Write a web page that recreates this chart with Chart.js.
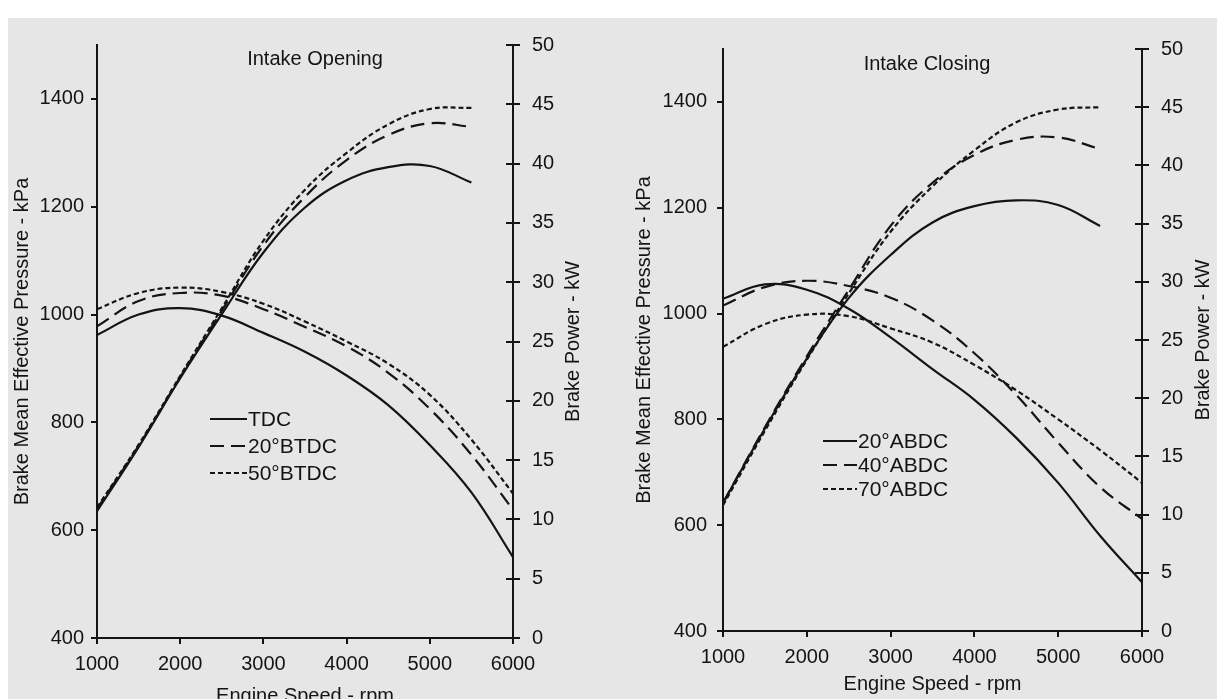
<!DOCTYPE html>
<html>
<head>
<meta charset="utf-8">
<script src="https://cdn.jsdelivr.net/npm/chart.js@4.4.0/dist/chart.umd.min.js"></script>
<style>
  html, body { margin: 0; padding: 0; background: #fff; }
  #page { position: relative; width: 1217px; height: 699px; overflow: hidden; }
  #paper { position: absolute; left: 8px; top: 18px; right: 0; bottom: 0; background: #e6e6e6; }
  canvas { position: absolute; top: 0; }
</style>
</head>
<body>
<div id="page">
  <div id="paper"></div>
  <canvas id="openChart" width="608" height="699" style="left:0"></canvas>
  <canvas id="closeChart" width="609" height="699" style="left:608px"></canvas>
</div>
<script>
// engine speed points (rpm)
var rpmBmep = [1000, 1500, 2000, 2500, 3000, 3500, 4000, 4500, 5000, 5500, 6000];
var rpmPower = [1000, 1500, 2000, 2500, 3000, 3500, 4000, 4500, 5000, 5500];

// axis ticks
var bmepTicks = [400, 600, 800, 1000, 1200, 1400];
var powerTicks = [0, 5, 10, 15, 20, 25, 30, 35, 40, 45, 50];
var rpmTicks = [1000, 2000, 3000, 4000, 5000, 6000];

// intake opening timing
var openLabels = ['TDC', '20°BTDC', '50°BTDC'];
var openBmep = [
  [962, 1000, 1012, 998, 966, 931, 887, 832, 758, 670, 550],
  [978, 1025, 1040, 1035, 1010, 977, 941, 892, 825, 740, 638],
  [1010, 1040, 1050, 1042, 1020, 987, 950, 909, 851, 768, 668]
];
var openPower = [
  [10.7, 16.1, 21.9, 27.3, 32.5, 36.3, 38.6, 39.7, 39.8, 38.4],
  [10.9, 16.2, 22.0, 27.6, 33.1, 37.2, 40.3, 42.4, 43.4, 43.1],
  [11.0, 16.3, 22.1, 27.8, 33.5, 37.8, 40.9, 43.3, 44.6, 44.7]
];

// intake closing timing
var closeLabels = ['20°ABDC', '40°ABDC', '70°ABDC'];
var closeBmep = [
  [1028, 1055, 1045, 1009, 955, 895, 837, 765, 680, 580, 492],
  [1015, 1050, 1062, 1052, 1030, 987, 925, 846, 756, 672, 612],
  [937, 980, 998, 995, 972, 945, 903, 855, 800, 742, 680]
];
var closePower = [
  [11.0, 17.4, 23.4, 28.6, 32.3, 35.1, 36.5, 37.0, 36.6, 34.8],
  [11.0, 17.5, 23.6, 29.3, 34.8, 38.5, 40.9, 42.2, 42.4, 41.4],
  [10.8, 17.2, 23.3, 29.0, 34.3, 38.2, 41.3, 43.7, 44.8, 45.0]
];

var ink = '#141414';
var fontFamily = '"Liberation Sans", Arial, sans-serif';
var dashes = [[], [14, 7], [5, 3]];

function points(xs, ys) {
  return ys.map(function(y, i) { return { x: xs[i], y: y }; });
}

function keepTicks(list) {
  return function(scale) {
    scale.ticks = list.map(function(v) { return { value: v }; });
  };
}

// plain numbers, no thousands separator
function plain(v) { return String(v); }

// headings, axis titles, legend and inner tick marks
var sheetText = {
  id: 'sheetText',
  afterDraw: function(chart, args, o) {
    var ctx = chart.ctx;
    var area = chart.chartArea;
    var midY = (area.top + area.bottom) / 2;
    ctx.save();
    ctx.fillStyle = ink;
    ctx.strokeStyle = ink;
    ctx.textBaseline = 'middle';
    ctx.font = '20px ' + fontFamily;

    ctx.textAlign = 'center';
    ctx.fillText(o.heading, o.headingX, o.headingY);
    ctx.fillText('Engine Speed - rpm', (area.left + area.right) / 2, o.xTitleY);

    [[o.leftTitle, o.leftTitleX], [o.rightTitle, o.rightTitleX]].forEach(function(t) {
      ctx.save();
      ctx.translate(t[1], midY);
      ctx.rotate(-Math.PI / 2);
      ctx.fillText(t[0], 0, 0);
      ctx.restore();
    });

    // power ticks cross the right axis
    var right = chart.scales.y1;
    ctx.lineWidth = 2;
    right.ticks.forEach(function(t) {
      var y = Math.round(right.getPixelForValue(t.value));
      ctx.beginPath();
      ctx.moveTo(area.right - 7, y);
      ctx.lineTo(area.right, y);
      ctx.stroke();
    });

    // legend inside the plot
    ctx.textAlign = 'left';
    ctx.font = '21px ' + fontFamily;
    o.labels.forEach(function(label, i) {
      var y = o.legendY + i * o.legendGap;
      ctx.beginPath();
      ctx.setLineDash(dashes[i]);
      ctx.moveTo(o.legendX, y);
      ctx.lineTo(o.legendX + o.legendLine, y);
      ctx.stroke();
      ctx.setLineDash([]);
      ctx.fillText(label, o.legendX + o.legendLine + 1, y + 1);
    });
    ctx.restore();
  }
};

function makeChart(id, labels, bmep, power, box, text) {
  var datasets = [];
  labels.forEach(function(label, i) {
    datasets.push({
      label: label,
      data: points(rpmBmep, bmep[i]),
      yAxisID: 'y',
      borderDash: dashes[i]
    });
    datasets.push({
      label: label + ' power',
      data: points(rpmPower, power[i]),
      yAxisID: 'y1',
      borderDash: dashes[i]
    });
  });

  var tickFont = { family: fontFamily, size: 20 };
  text.labels = labels;

  return new Chart(document.getElementById(id), {
    type: 'line',
    data: { datasets: datasets },
    options: {
      responsive: false,
      animation: false,
      layout: { padding: { top: box.top, left: 0, right: 0, bottom: 0 } },
      elements: {
        point: { radius: 0 },
        line: { borderColor: ink, borderWidth: 2.2, tension: 0.4, fill: false }
      },
      scales: {
        x: {
          type: 'linear',
          min: 1000,
          max: 6000,
          afterBuildTicks: keepTicks(rpmTicks),
          afterFit: function(s) { s.height = box.xHeight; },
          ticks: { color: ink, font: tickFont, padding: box.xPad, maxRotation: 0, callback: plain },
          grid: { drawOnChartArea: false, color: ink, lineWidth: 2, tickLength: 6 },
          border: { color: ink, width: 2 }
        },
        y: {
          position: 'left',
          min: 400,
          max: 1500,
          afterBuildTicks: keepTicks(bmepTicks),
          afterFit: function(s) { s.width = box.leftWidth; },
          ticks: { color: ink, font: tickFont, padding: box.leftPad, callback: plain },
          grid: { drawOnChartArea: false, color: ink, lineWidth: 2, tickLength: 6 },
          border: { color: ink, width: 2 }
        },
        y1: {
          position: 'right',
          min: 0,
          max: 50,
          afterBuildTicks: keepTicks(powerTicks),
          afterFit: function(s) { s.width = box.rightWidth; },
          ticks: { color: ink, font: tickFont, padding: 12, callback: plain },
          grid: { drawOnChartArea: false, color: ink, lineWidth: 2, tickLength: 7 },
          border: { color: ink, width: 2 }
        }
      },
      plugins: {
        legend: { display: false },
        tooltip: { enabled: false },
        sheetText: text
      }
    },
    plugins: [sheetText]
  });
}

makeChart('openChart', openLabels, openBmep, openPower,
  { top: 45, xHeight: 61, leftWidth: 97, rightWidth: 95, xPad: 8, leftPad: 7 },
  {
    heading: 'Intake Opening', headingX: 315, headingY: 59,
    leftTitle: 'Brake Mean Effective Pressure - kPa', leftTitleX: 22,
    rightTitle: 'Brake Power - kW', rightTitleX: 573,
    xTitleY: 696,
    legendX: 210, legendY: 419, legendGap: 27, legendLine: 37
  });

makeChart('closeChart', closeLabels, closeBmep, closePower,
  { top: 49, xHeight: 68, leftWidth: 115, rightWidth: 75, xPad: 8, leftPad: 10 },
  {
    heading: 'Intake Closing', headingX: 319, headingY: 64,
    leftTitle: 'Brake Mean Effective Pressure - kPa', leftTitleX: 36,
    rightTitle: 'Brake Power - kW', rightTitleX: 595,
    xTitleY: 684,
    legendX: 215, legendY: 441, legendGap: 24, legendLine: 34
  });
</script>
</body>
</html>
